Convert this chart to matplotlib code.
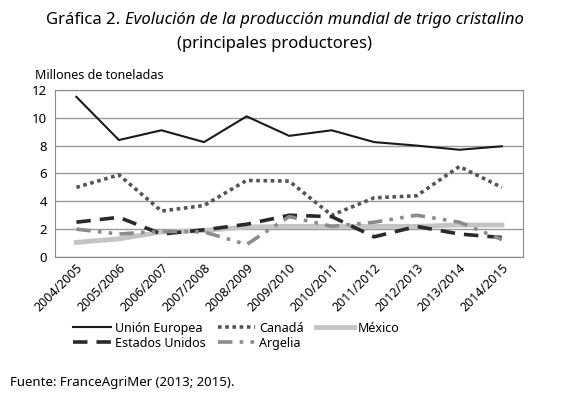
import matplotlib
matplotlib.use("Agg")
import matplotlib.pyplot as plt

plt.rcParams['font.family'] = ['Noto Sans', 'DejaVu Sans']

# Campañas
campanas = ['2004/2005', '2005/2006', '2006/2007', '2007/2008', '2008/2009',
            '2009/2010', '2010/2011', '2011/2012', '2012/2013', '2013/2014',
            '2014/2015']

# Millones de toneladas
union_europea = [11.5, 8.4, 9.1, 8.25, 10.1, 8.7, 9.1, 8.25, 8.0, 7.7, 7.95]
canada = [5.0, 5.9, 3.3, 3.7, 5.5, 5.45, 3.0, 4.25, 4.4, 6.5, 5.0]
estados_unidos = [2.5, 2.85, 1.65, 1.95, 2.35, 3.0, 2.9, 1.45, 2.2, 1.65, 1.4]
argelia = [2.0, 1.65, 1.85, 1.8, 0.9, 2.9, 2.2, 2.5, 3.0, 2.5, 1.25]
mexico = [1.05, 1.3, 1.8, 1.9, 2.15, 2.2, 2.2, 2.2, 2.2, 2.3, 2.3]

x = range(len(campanas))

fig = plt.figure(figsize=(5.8, 3.96), dpi=100)
ax = fig.add_axes([0.095, 0.351, 0.807, 0.422])

l_ue, = ax.plot(x, union_europea, color='#1a1a1a', lw=1.5, label='Unión Europea')
l_ca, = ax.plot(x, canada, color='#555555', lw=2.6, linestyle=(0, (1, 1)), label='Canadá')
l_mx, = ax.plot(x, mexico, color='#c4c4c4', lw=3.5, label='México')
l_us, = ax.plot(x, estados_unidos, color='#2a2a2a', lw=2.6, linestyle=(0, (4, 2.5)), label='Estados Unidos')
l_ar, = ax.plot(x, argelia, color='#8c8c8c', lw=2.6, linestyle=(0, (4, 2, 1, 2, 1, 2)), label='Argelia')

ax.set_xlim(-0.5, len(campanas) - 0.5)
ax.set_ylim(0, 12)
ax.set_yticks(range(0, 13, 2))
ax.set_xticks(list(x))
ax.set_xticklabels(campanas, rotation=45, ha='right', rotation_mode='anchor', fontsize=9)
ax.tick_params(axis='y', labelsize=9.5, length=0, pad=6)
ax.tick_params(axis='x', length=0, pad=3)
ax.grid(axis='y', color='#9a9a9a', lw=1)
ax.set_axisbelow(True)
for s in ax.spines.values():
    s.set_color('#8a8a8a')

# title: "Gráfica 2." upright, rest in italics
t1 = fig.text(0.08, 0.94, 'Gráfica 2. ', ha='left', va='baseline', fontsize=12)
ax.annotate('Evolución de la producción mundial de trigo cristalino',
            xy=(1, 0), xycoords=t1, va='bottom', ha='left',
            fontsize=12, style='italic', annotation_clip=False)
fig.text(0.473, 0.88, '(principales productores)', ha='center', va='baseline', fontsize=12)

fig.text(0.06, 0.80, 'Millones de toneladas', fontsize=9)
fig.text(0.017, 0.025, 'Fuente: FranceAgriMer (2013; 2015).', fontsize=9.5)

handles = [l_ue, l_us, l_ca, l_ar, l_mx]
fig.legend(handles=handles, labels=[h.get_label() for h in handles], ncol=3,
           loc='upper left', bbox_to_anchor=(0.118, 0.2), frameon=False,
           fontsize=9, handlelength=3.0, handletextpad=0.3, columnspacing=1.0,
           labelspacing=0.15, borderaxespad=0)

fig.savefig('out.png', dpi=100)
